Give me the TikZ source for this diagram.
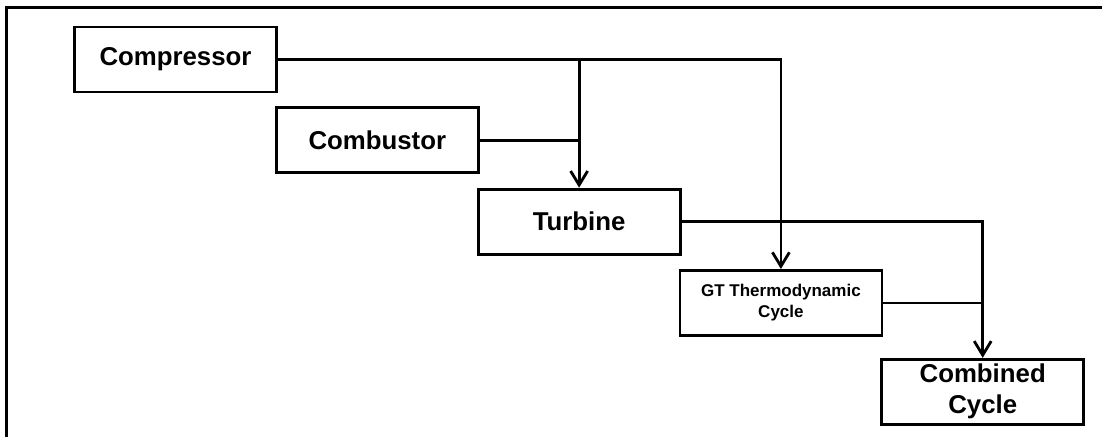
\documentclass[tikz,border=0pt]{standalone}
\usepackage{fontspec}
\setmainfont{Liberation Sans}
\usetikzlibrary{arrows.meta,positioning}

\begin{document}
\begin{tikzpicture}[x=1pt,y=-1pt,>={Straight Barb[length=14pt,width=17pt]},line width=2.8pt]
  \tikzstyle{block}=[rectangle,draw,line width=2.8pt,minimum width=202pt,
  			  minimum height=65pt,inner sep=0pt,align=center,
  			  font=\fontsize{25.8}{31}\selectfont\bfseries]
  \tikzstyle{small block}=[block,font=\fontsize{17}{21}\selectfont\bfseries]
  \useasboundingbox (0,0) rectangle (1102,437);
  % frame
  \draw (1102,7.5) -- (6.5,7.5) -- (6.5,437);
  % blocks
  \node [block] (comp) at (175.5,59.5) {Compressor};
  \node [block] (comb) [below right=13pt and -3pt of comp] {Combustor};
  \node [block] (turb) [below right=13.5pt and -3pt of comb] {Turbine};
  \node [small block] (gt) [below right=13.5pt and -3pt of turb] {GT Thermodynamic\\Cycle};
  \node [block] (cc) [below right=21pt and -3pt of gt] {Combined\\Cycle};
  % connections
  \draw [->] (comp) -| (gt);
  \draw [->] (comp -| turb) -- (turb);
  \draw (comb) -- (comb -| turb);
  \draw [->] (turb) -| (cc);
  \draw (gt) -- (gt -| cc);
\end{tikzpicture}
\end{document}
